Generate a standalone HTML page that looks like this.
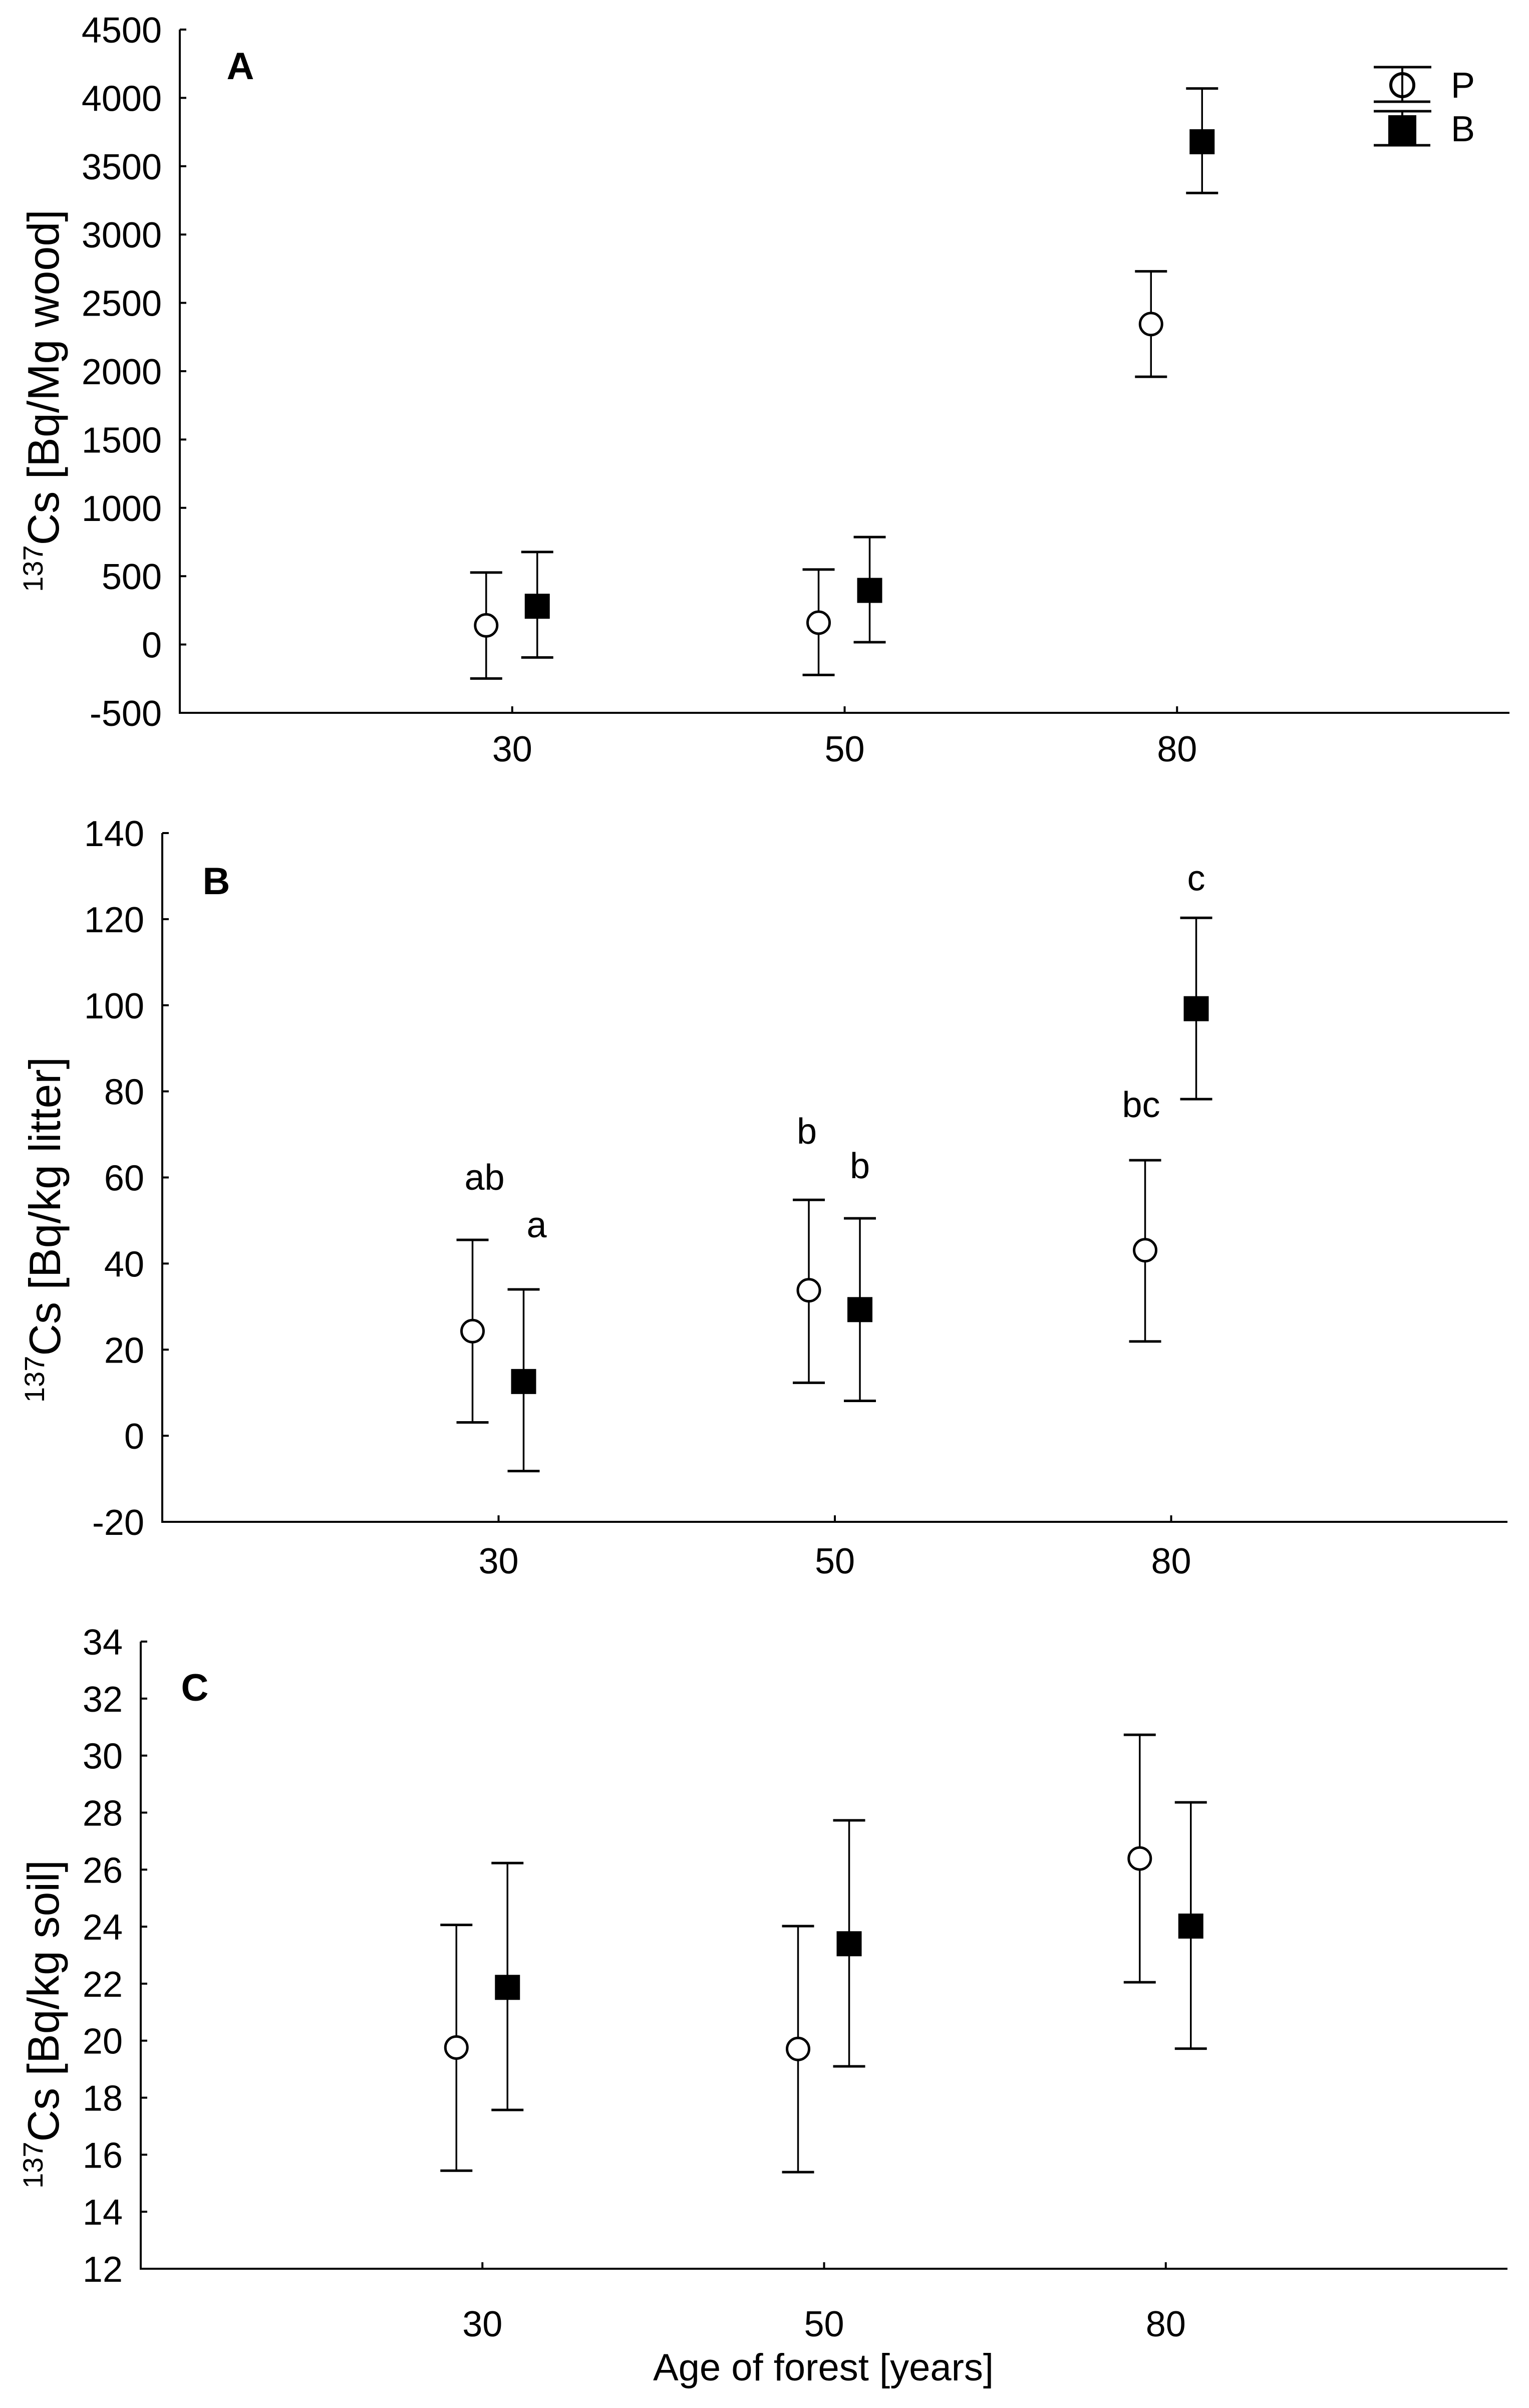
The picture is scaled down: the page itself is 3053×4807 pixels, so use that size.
<!DOCTYPE html>
<html><head><meta charset="utf-8"><style>
html,body{margin:0;padding:0;background:#fff}
svg{display:block}
text{font-family:"Liberation Sans",Arial,sans-serif;fill:#000}
</style></head>
<body>
<svg id="chart" width="3053" height="4807" viewBox="0 0 3053 4807" xmlns="http://www.w3.org/2000/svg">
<rect width="3053" height="4807" fill="#fff"/>
</svg>
<script>
// shared categories
const categories = ["30","50","80"];
// Panel A: wood
const aTicks = [-500,0,500,1000,1500,2000,2500,3000,3500,4000,4500];
const aPMean = [140,160,2345];
const aPLow = [-249,-223,1959];
const aPHigh = [527,549,2731];
const aBMean = [280,396,3679];
const aBLow = [-95,17,3304];
const aBHigh = [677,786,4069];
// Panel B: litter
const bTicks = [-20,0,20,40,60,80,100,120,140];
const bPMean = [24.3,33.8,43.1];
const bPLow = [3.1,12.3,21.9];
const bPHigh = [45.5,54.8,64.0];
const bBMean = [12.6,29.3,99.2];
const bBLow = [-8.2,8.1,78.2];
const bBHigh = [34.0,50.5,120.3];
const bPLetters = ["ab","b","bc"];
const bBLetters = ["a","b","c"];
// Panel C: soil
const cTicks = [12,14,16,18,20,22,24,26,28,30,32,34];
const cPMean = [19.76,19.71,26.39];
const cPLow = [15.44,15.39,22.05];
const cPHigh = [24.06,24.02,30.73];
const cBMean = [21.87,23.40,24.02];
const cBLow = [17.57,19.10,19.72];
const cBHigh = [26.23,27.73,28.36];

const NS = "http://www.w3.org/2000/svg";
const svg = document.getElementById('chart');
function mk(tag, attrs, parent){
  const e = document.createElementNS(NS, tag);
  for (const k in attrs) e.setAttribute(k, attrs[k]);
  (parent||svg).appendChild(e);
  return e;
}

function drawPanel(p){
  const g = mk('g', {});
  
  
  const yMin = p.ticks[0], yMax = p.ticks[p.ticks.length-1];
  const ys = v => p.yBottom - (v - yMin) / (yMax - yMin) * (p.yBottom - p.yTop);
  const xs = i => p.xLeft + (i + 1) * (p.xRight - p.xLeft) / (categories.length + 1);

  const ya = mk('line', {x1:p.xLeft, y1:p.yTop, x2:p.xLeft, y2:p.yBottom, stroke:'#000','stroke-width':4}, g);
  
  
  const xa = mk('line', {x1:p.xLeft-2, y1:p.yBottom, x2:p.xRight, y2:p.yBottom, stroke:'#000','stroke-width':4}, g);
  
  

  p.ticks.forEach(t => {
    const y = ys(t);
    mk('line', {x1:p.xLeft, y1:y, x2:p.xLeft+13, y2:y, stroke:'#000','stroke-width':4}, g);
    const tl = mk('text', {x:p.xLeft-36, y:y+26, 'font-size':72, 'text-anchor':'end'}, g);
    tl.textContent = String(t);
    
    
  });
  categories.forEach((c, i) => {
    const x = xs(i);
    mk('line', {x1:x, y1:p.yBottom, x2:x, y2:p.yBottom-13, stroke:'#000','stroke-width':4}, g);
    const tl = mk('text', {x:x, y:p.xLabelY, 'font-size':72, 'text-anchor':'middle'}, g);
    tl.textContent = c;
    
    
  });

  // y title
  const tt = mk('text', {x:0, y:0, 'font-size':88, 'text-anchor':'middle', transform:'translate(' + p.titleX + ',' + p.titleY + ') rotate(-90)'}, g);
  
  
  const sup = mk('tspan', {'font-size':56, dy:-32}, tt);
  sup.textContent = '137';
  const rest = mk('tspan', {dy:32}, tt);
  rest.textContent = 'Cs ' + p.unit;

  const pl = mk('text', {x:p.letterX, y:p.letterY, 'font-size':76, 'font-weight':'bold', 'text-anchor':'middle'}, g);
  pl.textContent = p.label;
  
  

  function series(mean, low, high, off, kind){
    mean.forEach((m, i) => {
      const x = xs(i) + off;
      const eb = mk('g', {stroke:'#000','stroke-width':3.5}, g);
      
      
      mk('line', {x1:x, y1:ys(high[i]), x2:x, y2:ys(low[i])}, eb);
      mk('line', {x1:x-32, y1:ys(high[i]), x2:x+32, y2:ys(high[i]), 'stroke-width':5}, eb);
      mk('line', {x1:x-32, y1:ys(low[i]), x2:x+32, y2:ys(low[i]), 'stroke-width':5}, eb);
      let mkr;
      if (kind === 'P') mkr = mk('circle', {cx:x, cy:ys(m), r:22, fill:'#fff', stroke:'#000','stroke-width':5}, g);
      else mkr = mk('rect', {x:x-25, y:ys(m)-25, width:50, height:50, fill:'#000'}, g);
      
      
    });
  }
  series(p.pMean, p.pLow, p.pHigh, -52, 'P');
  series(p.bMean, p.bLow, p.bHigh, 50, 'B');

  if (p.pLetters){
    p.pLetters.forEach((l, i) => {
      const t = mk('text', {x:xs(i)-52+(i===0?24:i===1?-4:-8), y:ys(p.pHigh[i])-100 - (i===1? 12: 0) + (i===2?14:0), 'font-size':72, 'text-anchor':'middle'}, g);
      t.textContent = l;
      
      
    });
    p.bLetters.forEach((l, i) => {
      const t = mk('text', {x:xs(i)+50+(i===0?26:0), y:ys(p.bHigh[i])-80 - (i===0?24:0) + (i===2?25:0), 'font-size':72, 'text-anchor':'middle'}, g);
      t.textContent = l;
      
      
    });
  }
}

drawPanel({key:'a', label:'A', unit:'[Bq/Mg wood]', ticks:aTicks, pMean:aPMean, pLow:aPLow, pHigh:aPHigh, bMean:aBMean, bLow:aBLow, bHigh:aBHigh,
  xLeft:359, xRight:3014, yTop:59, yBottom:1423, xLabelY:1520, titleX:117, titleY:800, letterX:480, letterY:158});
drawPanel({key:'b', label:'B', unit:'[Bq/kg litter]', ticks:bTicks, pMean:bPMean, pLow:bPLow, pHigh:bPHigh, bMean:bBMean, bLow:bBLow, bHigh:bBHigh, pLetters:bPLetters, bLetters:bBLetters,
  xLeft:324, xRight:3010, yTop:1663, yBottom:3038, xLabelY:3141, titleX:120, titleY:2455, letterX:432, letterY:1785});
drawPanel({key:'c', label:'C', unit:'[Bq/kg soil]', ticks:cTicks, pMean:cPMean, pLow:cPLow, pHigh:cPHigh, bMean:cBMean, bLow:cBLow, bHigh:cBHigh,
  xLeft:281, xRight:3010, yTop:3277, yBottom:4529, xLabelY:4664, titleX:117, titleY:4041, letterX:389, letterY:3395});

// x title
const xt = mk('text', {x:1644, y:4752, 'font-size':76, 'text-anchor':'middle'});
xt.textContent = 'Age of forest [years]';



// legend
const lg = mk('g', {stroke:'#000'});


const lgP = mk('g', {}, lg);


mk('line', {x1:2800, y1:134, x2:2800, y2:203, 'stroke-width':4}, lgP);
mk('line', {x1:2743, y1:134, x2:2858, y2:134, 'stroke-width':5}, lgP);
mk('line', {x1:2743, y1:203, x2:2856, y2:203, 'stroke-width':5}, lgP);
mk('circle', {cx:2800, cy:170, r:23, fill:'#fff', 'stroke-width':6}, lgP);
mk('line', {x1:2800, y1:148, x2:2800, y2:192, 'stroke-width':4}, lgP);
const lgB = mk('g', {}, lg);


mk('line', {x1:2800, y1:222, x2:2800, y2:290, 'stroke-width':4}, lgB);
mk('line', {x1:2743, y1:222, x2:2858, y2:222, 'stroke-width':5}, lgB);
mk('line', {x1:2743, y1:290, x2:2856, y2:290, 'stroke-width':5}, lgB);
mk('rect', {x:2772, y:230, width:56, height:58, fill:'#000', stroke:'none'}, lgB);
const tP = mk('text', {x:2897, y:195, 'font-size':72, stroke:'none'}, lg);
tP.textContent = 'P';


const tB = mk('text', {x:2897, y:282, 'font-size':72, stroke:'none'}, lg);
tB.textContent = 'B';


</script>
</body></html>
